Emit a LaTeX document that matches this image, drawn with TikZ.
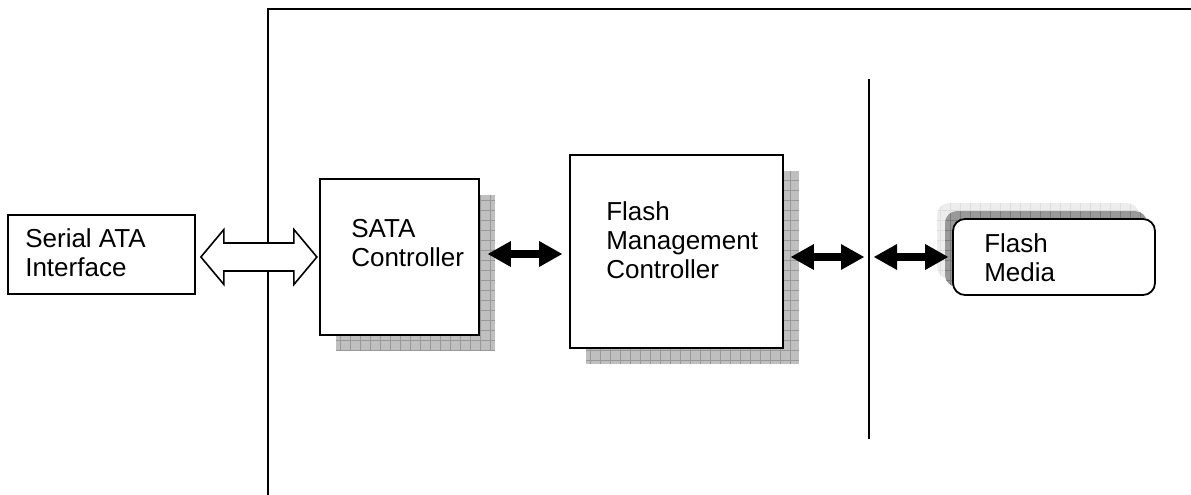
\documentclass[tikz,border=0pt]{standalone}
\usepackage{fontspec}
\setmainfont{Liberation Sans}
\usetikzlibrary{arrows.meta,calc}
\begin{document}
\begin{tikzpicture}[x=1pt,y=-1pt,
  box/.style={draw=black,line width=1.8pt,fill=white,inner sep=0pt},
  txt/.style={inner sep=0pt,align=left,anchor=north west,font=\fontsize{26}{29}\selectfont},
  wall/.style={line width=2pt,black},
  blk/.style={line width=8pt,{Triangle[length=23pt,width=26pt,line width=0pt]}-{Triangle[length=23pt,width=26pt,line width=0pt]}},
  hollow/.style={draw=black,line width=1.6pt,fill=white,line join=miter}]
\useasboundingbox (0,0) rectangle (1191,495);
% container and divider
\draw[wall] (268,495) -- (268,9) -- (1191,9);
\coordinate (dt) at (869,79);
\coordinate (db) at (869,439);
\draw[wall] (dt) -- (db);
% node positions
\coordinate (saiC) at (101.5,254.5);
\coordinate (sataC) at (399.5,257);
\coordinate (fmcC) at (676.5,251.5);
\coordinate (mediaC) at (1054,257);
% shadows
\begin{scope}
  \clip ($(sataC)+(-79.5+16,-78+16)$) rectangle ($(sataC)+(79.5+16,78+16)$);
  \fill[black!25] ($(sataC)+(-79.5+16,-78+16)$) rectangle ($(sataC)+(79.5+16,78+16)$);
  \draw[black!40,line width=0.6pt,step=10pt] ($(sataC)+(-79.5+16,-78+16)$) grid ($(sataC)+(79.5+16,78+16)$);
\end{scope}
\begin{scope}
  \clip ($(fmcC)+(-106.5+16,-96.5+16)$) rectangle ($(fmcC)+(106.5+16,96.5+16)$);
  \fill[black!25] ($(fmcC)+(-106.5+16,-96.5+16)$) rectangle ($(fmcC)+(106.5+16,96.5+16)$);
  \draw[black!40,line width=0.6pt,step=10pt] ($(fmcC)+(-106.5+16,-96.5+16)$) grid ($(fmcC)+(106.5+16,96.5+16)$);
\end{scope}
\begin{scope}
  \clip[rounded corners=12pt] ($(mediaC)+(-101-16,-38-16)$) rectangle ($(mediaC)+(101-16,38-16)$);
  \fill[black!7] ($(mediaC)+(-101-16,-38-16)$) rectangle ($(mediaC)+(101-16,38-16)$);
  \draw[black!13,line width=0.6pt,step=10pt] ($(mediaC)+(-101-16,-38-16)$) grid ($(mediaC)+(101-16,38-16)$);
\end{scope}
\begin{scope}
  \clip[rounded corners=12pt] ($(mediaC)+(-101-8,-38-8)$) rectangle ($(mediaC)+(101-8,38-8)$);
  \fill[black!40] ($(mediaC)+(-101-8,-38-8)$) rectangle ($(mediaC)+(101-8,38-8)$);
  \draw[black!52,line width=0.6pt,step=10pt] ($(mediaC)+(-101-8,-38-8)$) grid ($(mediaC)+(101-8,38-8)$);
\end{scope}
% boxes
\node[box,minimum width=187pt,minimum height=79pt] (sai) at (saiC) {};
\node[box,minimum width=159pt,minimum height=156pt] (sata) at (sataC) {};
\node[box,minimum width=213pt,minimum height=193pt] (fmc) at (fmcC) {};
\node[box,rounded corners=12pt,minimum width=202pt,minimum height=76pt] (media) at (mediaC) {};
% texts
\node[txt] (saiT) at ($(sai.north west)+(18,14)$) {Serial ATA\\Interface};
\node[txt] (sataT) at ($(sata.north west)+(32,41)$) {SATA\\Controller};
\node[txt] (fmcT) at ($(fmc.north west)+(37,47)$) {Flash\\Management\\Controller};
\node[txt] (mediaT) at ($(media.north west)+(32,15)$) {Flash\\Media};
% hollow double arrow
\draw[hollow] ($(sai.east)+(5,2.5)$) -- ++(23,-27.5) -- ++(0,13.5) -- ++(70,0) -- ++(0,-13.5)
  -- ++(23,27.5) -- ++(-23,27.5) -- ++(0,-13.5) -- ++(-70,0) -- ++(0,13.5) -- cycle;
% black double arrows
\draw[blk,shorten <=8pt,shorten >=7pt] ($(sata.east)+(0,-3)$) -- ($(sata.east -| fmc.west)+(0,-3)$);
\draw[blk,shorten <=7pt,shorten >=5pt] (fmc.east |- media.west) -- (dt |- media.west);
\draw[blk,shorten <=5pt,shorten >=4pt] (dt |- media.west) -- (media.west);
\end{tikzpicture}
\end{document}
